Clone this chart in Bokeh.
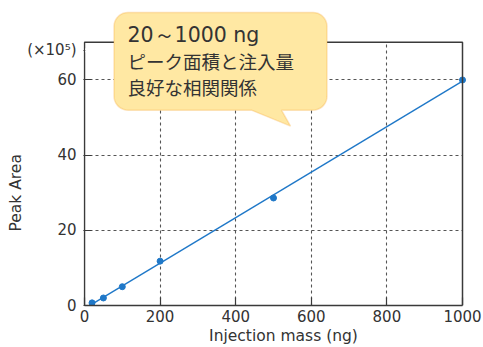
import numpy as np
from bokeh.plotting import figure
from bokeh.models import Label, PolyAnnotation, FixedTicker, Title
from bokeh.embed import file_html
from bokeh.resources import INLINE

# ---- data ----
mass = [20, 50, 100, 200, 500, 1000]
area = [0.7, 2.0, 5.0, 11.8, 28.6, 60.0]
x_ticks = [0, 200, 400, 600, 800, 1000]
y_ticks = [0, 20, 40, 60]
callout_lines = ["20～1000 ng", "ピーク面積と注入量", "良好な相関関係"]
x_label = "Injection mass (ng)"
y_label = "Peak Area"
y_unit = "(×10⁵)"

# ---- layout (page pixels) ----
W, H = 483, 347
BOX_L, BOX_R, BOX_T, BOX_B = 84, 462, 42, 306   # visible plot box
X_MAX, Y_MAX = 1000, 70                          # box extent in data units
KX = (BOX_R - BOX_L) / X_MAX
KY = (BOX_B - BOX_T) / Y_MAX
FRAME_L = BOX_L - 1


def dx(px):
    return (px - BOX_L) / KX


def dy(py):
    return (BOX_B - py) / KY


AX = "#3a3a3a"
TXT = "#333333"
BLUE = "#1f78c8"
LATIN = "DejaVu Sans"
CJK = "Noto Sans CJK JP"

p = figure(width=W, height=H,
           x_range=(dx(FRAME_L), dx(W)), y_range=(0, dy(0)),
           min_border_left=FRAME_L, min_border_right=0, min_border_top=0,
           min_border_bottom=H - BOX_B,
           output_backend="svg", toolbar_location=None)
p.outline_line_color = None
p.border_fill_color = "white"

xa, ya = p.xaxis[0], p.yaxis[0]
for ax in (xa, ya):
    ax.major_tick_line_color = AX
    ax.major_tick_line_width = 1.2
    ax.major_tick_in = 8
    ax.major_tick_out = 0
    ax.minor_tick_line_color = None
    ax.major_label_text_font = LATIN
    ax.major_label_text_font_size = "15px"
    ax.major_label_text_color = TXT
    ax.axis_label_text_font = LATIN
    ax.axis_label_text_font_size = "15.5px"
    ax.axis_label_text_font_style = "normal"
    ax.axis_label_text_color = TXT

xa.ticker = FixedTicker(ticks=x_ticks)
xa.bounds = (x_ticks[0], x_ticks[-1])
xa.axis_line_color = AX
xa.axis_line_width = 1.5
xa.major_label_standoff = 4
xa.axis_label = x_label
xa.axis_label_standoff = 2

UNIT_Y = dy(50)
ya.ticker = FixedTicker(ticks=y_ticks + [UNIT_Y])
ya.major_label_overrides = {UNIT_Y: y_unit}
ya.axis_line_color = None
ya.major_label_standoff = 7

# y-axis title, placed along the left side starting near the bottom
p.add_layout(Title(text=y_label, align="left", offset=BOX_B - 232, standoff=0,
                   text_font=LATIN, text_font_size="15.5px", text_font_style="normal",
                   text_color=TXT), "left")

p.xgrid[0].ticker = FixedTicker(ticks=x_ticks[1:-1])
p.ygrid[0].ticker = FixedTicker(ticks=y_ticks[1:])
for g in (p.xgrid[0], p.ygrid[0]):
    g.grid_line_color = "#555555"
    g.grid_line_dash = "3 3"
    g.grid_line_width = 1.1

# white covers outside the plot box (hide grid overflow)
p.quad(left=[dx(FRAME_L), X_MAX], right=[dx(W), dx(W)], bottom=[Y_MAX, 0],
       top=[dy(0), Y_MAX], fill_color="white", line_color=None)
# hide the tick mark of the unit label
p.quad(left=[dx(BOX_L + 0.8)], right=[dx(BOX_L + 10)], bottom=[dy(52)], top=[dy(48)],
       fill_color="white", line_color=None, level="annotation")

# fitted line and points
coef = np.polyfit(mass, area, 1)
xs_fit = [mass[0], mass[-1]]
ys_fit = [float(np.polyval(coef, v)) for v in xs_fit]
p.line(xs_fit, ys_fit, line_color=BLUE, line_width=1.4)
p.scatter(mass, area, size=6, fill_color=BLUE, line_color=BLUE)

# plot box edges (left, top, right)
p.line([0, 0, X_MAX, X_MAX], [0, Y_MAX, Y_MAX, 0], line_color=AX, line_width=1.5)

# callout bubble (page pixel geometry)
l, r, t, b, rad = 113.5, 326.5, 12, 110, 14
tail = [(281, b), (290, 126), (251, b)]
pts = []


def arc(cx, cy, a0, a1):
    for a in np.linspace(np.radians(a0), np.radians(a1), 10):
        pts.append((cx + rad * np.cos(a), cy + rad * np.sin(a)))


arc(l + rad, t + rad, 180, 270)
arc(r - rad, t + rad, 270, 360)
arc(r - rad, b - rad, 0, 90)
pts.extend(tail)
arc(l + rad, b - rad, 90, 180)

p.add_layout(PolyAnnotation(xs=[dx(q[0]) for q in pts], ys=[dy(q[1]) for q in pts],
                            fill_color="#ffe8a3", fill_alpha=1.0,
                            line_color="#f4a93a", line_width=1.5))

p.add_layout(Label(x=dx(127), y=dy(35), text=callout_lines[0], text_align="left",
                   text_baseline="middle", text_font=LATIN, text_font_size="20.5px",
                   text_color=TXT))
for i, ypix in ((1, 61), (2, 87)):
    p.add_layout(Label(x=dx(127), y=dy(ypix), text=callout_lines[i], text_align="left",
                       text_baseline="middle", text_font=CJK, text_font_size="18.5px",
                       text_color=TXT))

open("out.html", "w").write(file_html(p, INLINE))
